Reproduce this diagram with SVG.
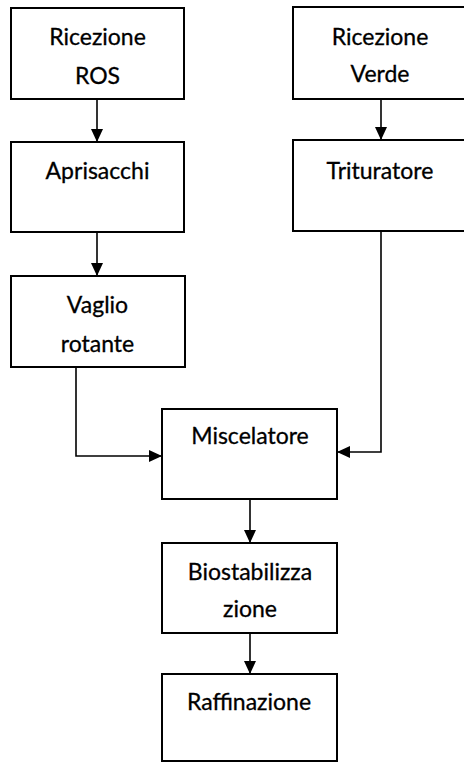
<svg xmlns="http://www.w3.org/2000/svg" width="464" height="764" viewBox="0 0 464 764">
<style>
.box{fill:#fff;stroke:#000;stroke-width:2}
.t{font-family:Lato,"Open Sans","Liberation Sans",sans-serif;font-size:23px;fill:#000;text-anchor:middle;stroke:#000;stroke-width:0.3}
.c{fill:none;stroke:#000;stroke-width:1.6}
</style>
<defs>
<marker id="ah" viewBox="0 0 13 12" refX="13" refY="6" markerWidth="13" markerHeight="12" markerUnits="userSpaceOnUse" orient="auto">
<path d="M0,0 L13,6 L0,12 z" fill="#000"/>
</marker>
</defs>
<rect width="464" height="764" fill="#fff"/>
<g id="ricezione-ros"><rect class="box" x="11" y="8" width="173" height="91"/><text class="t" x="97.5" y="45">Ricezione</text><text class="t" x="97.5" y="84">ROS</text></g>
<g id="aprisacchi"><rect class="box" x="11" y="142" width="173" height="90"/><text class="t" x="97.5" y="179">Aprisacchi</text></g>
<g id="vaglio"><rect class="box" x="11" y="276" width="174" height="91"/><text class="t" x="97.5" y="313">Vaglio</text><text class="t" x="97.5" y="352">rotante</text></g>
<g id="ricezione-verde"><rect class="box" x="293" y="7" width="174" height="92"/><text class="t" x="380" y="45">Ricezione</text><text class="t" x="380" y="82">Verde</text></g>
<g id="trituratore"><rect class="box" x="293" y="140" width="174" height="91"/><text class="t" x="380" y="179">Trituratore</text></g>
<g id="miscelatore"><rect class="box" x="162" y="409" width="175" height="90"/><text class="t" x="250" y="444">Miscelatore</text></g>
<g id="biostabilizzazione"><rect class="box" x="162" y="543" width="175" height="90"/><text class="t" x="250" y="580">Biostabilizza</text><text class="t" x="250" y="617">zione</text></g>
<g id="raffinazione"><rect class="box" x="162" y="674" width="175" height="87"/><text class="t" x="249" y="710">Raffinazione</text></g>
<g id="connectors">
<path class="c" d="M97,99 V142" marker-end="url(#ah)"/>
<path class="c" d="M97,232 V276" marker-end="url(#ah)"/>
<path class="c" d="M381,99 V140" marker-end="url(#ah)"/>
<path class="c" d="M76,367 V456 H162" marker-end="url(#ah)"/>
<path class="c" d="M381,231 V452 H337" marker-end="url(#ah)"/>
<path class="c" d="M250,499 V543" marker-end="url(#ah)"/>
<path class="c" d="M250,633 V674" marker-end="url(#ah)"/>
</g>
</svg>
